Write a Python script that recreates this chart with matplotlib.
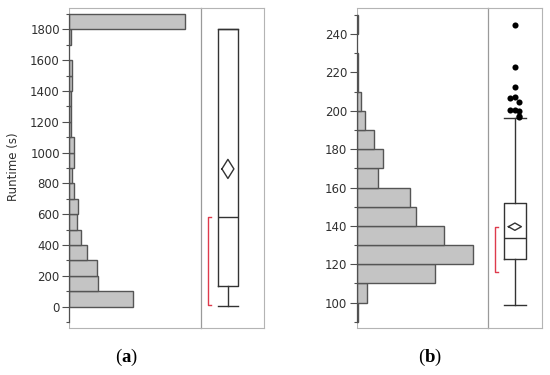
import matplotlib
matplotlib.use("Agg")
import matplotlib.pyplot as plt
import numpy as np

# ---------------- data ----------------
# (a) runtime histogram, bins of 100 s (lower edges) and counts
a_bins = [0, 100, 200, 300, 400, 500, 600, 700, 800, 900, 1000, 1100, 1200,
          1300, 1400, 1500, 1600, 1700, 1800]
a_counts = [44, 20, 19, 12, 8, 5, 6, 3, 2, 3, 3, 1, 1, 1, 2, 2, 0, 1, 80]
a_binwidth = 100
# (a) box plot summary
a_box = dict(whislo=6, q1=134, med=580, q3=1800, whishi=1800)
a_mean, a_mean_ci = 894, 62
a_short_half = (11, 584)
a_outliers = []
a_major = [0, 200, 400, 600, 800, 1000, 1200, 1400, 1600, 1800]
a_minor = [-100, 100, 300, 500, 700, 900, 1100, 1300, 1500, 1700, 1900]

# (b) runtime histogram, bins of 10 s (lower edges) and counts
b_bins = [90, 100, 110, 120, 130, 140, 150, 160, 170, 180, 190, 200, 210,
          220, 230, 240]
b_counts = [1, 7, 54, 80, 60, 41, 37, 15, 18, 12, 6, 3, 1, 1, 0, 1]
b_binwidth = 10
b_box = dict(whislo=98.6, q1=122.6, med=133.9, q3=152.1, whishi=196.0)
b_mean, b_mean_ci = 139.6, 1.9
b_short_half = (116.1, 139.6)
b_outliers = [244.8, 223.0, 212.5, 207.0, 206.5, 204.5, 200.5, 200.2, 199.8,
              197.5, 197.0]
b_major = [100, 120, 140, 160, 180, 200, 220, 240]
b_minor = [90, 110, 130, 150, 170, 190, 210, 230, 250]

ylabel = "Runtime (s)"
panel_labels = ["a", "b"]

# ---------------- style ----------------
plt.rcParams['font.family'] = ['DejaVu Sans']
plt.rcParams['mathtext.fontset'] = 'custom'
plt.rcParams['mathtext.rm'] = 'Liberation Serif'
plt.rcParams['mathtext.bf'] = 'Liberation Serif:bold'

W, H = 550, 375
fig = plt.figure(figsize=(W / 100, H / 100), dpi=100)

FRAME = '#b4b4b4'
DIVIDER = '#9a9a9a'
AXIS = '#505050'
DARK = '#333333'
BAR_FC = '#c4c4c4'
BAR_EC = '#555555'
RED = '#de3a4c'


def px_axes(x0, x1, y0, y1):
    return fig.add_axes([x0 / W, 1 - y1 / H, (x1 - x0) / W, (y1 - y0) / H])


def panel(xl, xdiv, xr, ytop, ybot, ylim, bins, counts, bw, box, mean, ci,
          short_half, outliers, major, minor, box_w, diamond_w):
    ah = px_axes(xl, xdiv, ytop, ybot)
    ab = px_axes(xdiv, xr, ytop, ybot)
    for ax in (ah, ab):
        ax.set_facecolor('none')
        ax.set_ylim(*ylim)
    # histogram
    cmax = max(counts)
    ah.set_xlim(0, cmax / 0.88)
    for b, c in zip(bins, counts):
        if c > 0:
            ah.barh(b, c, height=bw, align='edge', color=BAR_FC,
                    edgecolor=BAR_EC, linewidth=1.0, zorder=2)
    ah.set_xticks([])
    ah.set_yticks(major)
    ah.set_yticks(minor, minor=True)
    ah.tick_params(axis='y', which='major', length=4.8, width=0.8,
                   color=AXIS, pad=2, labelsize=8.5, labelcolor='#303030')
    ah.tick_params(axis='y', which='minor', length=2.4, width=0.8, color=AXIS)
    for s in ('top', 'bottom'):
        ah.spines[s].set_color(FRAME)
        ah.spines[s].set_linewidth(0.8)
    ah.spines['right'].set_color(DIVIDER)
    ah.spines['right'].set_linewidth(0.9)
    ah.spines['left'].set_color(AXIS)
    ah.spines['left'].set_linewidth(0.9)
    ah.spines['left'].set_bounds(min(minor), max(minor))
    ah.axvline(0, color=FRAME, lw=0.8, zorder=0)

    # box plot panel (x in pixels)
    pw = xr - xdiv
    ab.set_xlim(0, pw)
    ab.set_xticks([])
    ab.set_yticks([])
    ab.spines['left'].set_visible(False)
    for s in ('top', 'bottom', 'right'):
        ab.spines[s].set_color(FRAME)
        ab.spines[s].set_linewidth(0.8)
    c = 26.6
    st = dict(box)
    st['fliers'] = []
    lp = dict(color=DARK, linewidth=1.0)
    ab.bxp([st], positions=[c], widths=box_w, capwidths=box_w,
           showfliers=False, boxprops=lp, whiskerprops=lp, capprops=lp,
           medianprops=lp, manage_ticks=False)
    # mean diamond
    dx = diamond_w / 2
    ab.plot([c - dx, c, c + dx, c, c - dx],
            [mean, mean + ci, mean, mean - ci, mean], color=DARK, lw=1.0)
    # shortest half bracket
    bx, tk = 7.0, 3.0
    lo, hi = short_half
    ab.plot([bx + tk, bx, bx, bx + tk], [hi, hi, lo, lo], color=RED, lw=1.0)
    # outliers with deterministic spreading of near points
    pattern = [0, -1, 1, -0.5, 0.5, -1.5, 1.5]
    placed = []
    for v in sorted(outliers, reverse=True):
        k = sum(1 for p in placed if abs(p - v) < 3.0)
        placed.append(v)
        ab.plot(c + pattern[k % len(pattern)] * 4.5, v, 'o', color='black',
                markersize=4.4, markeredgewidth=0, clip_on=False)
    return ah, ab


# panel (a)
a_ylim = (-138, 1936)
panel(69.3, 201.3, 264.0, 8.3, 328.0, a_ylim, a_bins, a_counts, a_binwidth,
      a_box, a_mean, a_mean_ci, a_short_half, a_outliers, a_major, a_minor,
      box_w=20.7, diamond_w=12)

# panel (b)
b_ylim = (86.8, 253.4)
panel(356.7, 488.3, 541.7, 8.3, 328.0, b_ylim, b_bins, b_counts, b_binwidth,
      b_box, b_mean, b_mean_ci, b_short_half, b_outliers, b_major, b_minor,
      box_w=21.4, diamond_w=13)

fig.text(13.5 / W, 1 - 166.7 / H, ylabel, rotation=90, ha='center',
         va='center', fontsize=8.5, color='#303030')

for lab, xc in zip(panel_labels, [126.7, 430.0]):
    fig.text(xc / W, 1 - 357.3 / H, r"($\mathbf{" + lab + r"}$)",
             ha='center', va='center', fontsize=13.5,
             family='Liberation Serif', color='black')

fig.savefig("out.png", dpi=100)
